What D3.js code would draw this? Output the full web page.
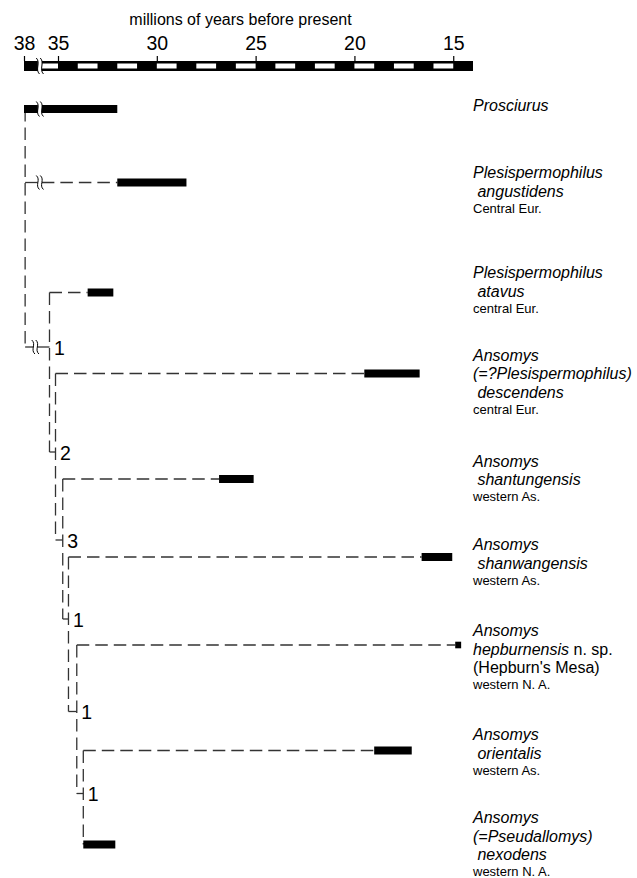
<!DOCTYPE html>
<html><head><meta charset="utf-8">
<script src="https://cdn.jsdelivr.net/npm/d3@7"></script>
<style>
body{margin:0;background:#fff}
svg{display:block}
text{font-family:"Liberation Sans",Arial,Helvetica,sans-serif;white-space:pre}
</style>
</head><body>
<svg id="chart" width="637" height="878"></svg>
<script>
// ================= DATA =================
const axisTitle = "millions of years before present";
const tickValues = [38, 35, 30, 25, 20, 15];
const axisAges = [38, 35, 14];              // 38–35 section is compressed (axis break)
const cellStarts = d3.range(35, 14, -1);    // 1-Myr cells of the time bar

const taxa = [
  "Prosciurus", "Plesispermophilus angustidens", "Plesispermophilus atavus",
  "Ansomys descendens", "Ansomys shantungensis", "Ansomys shanwangensis",
  "Ansomys hepburnensis", "Ansomys orientalis", "Ansomys nexodens"
];
// stratigraphic range (Ma): oldest, youngest
const rangeOld   = [38.0, 32.0, 33.5, 19.5, 26.85, 16.6, 14.9, 19.0, 33.72];
const rangeYoung = [32.0, 28.5, 32.2, 16.7, 25.1, 15.05, 14.6, 17.1, 32.1];
// node each taxon branches from, node ages (Ma) and connection labels
const taxonNode  = [0, 0, 1, 2, 3, 4, 5, 6, 6];
const nodeAges   = [37.9, 35.75, 35.22, 34.76, 34.47, 34.05, 33.72];
const nodeLabels = ["1", "2", "3", "1", "1", "1"];
const breakAge   = 36.6;   // age at which long branches are broken
const connBreakAge = 37.0;

// label lines: t = text, s = style (i italic, n normal, r region)
const taxonLabels = [
  [[{t:"Prosciurus", s:"i"}]],
  [[{t:"Plesispermophilus", s:"i"}], [{t:" angustidens", s:"i"}], [{t:"Central Eur.", s:"r"}]],
  [[{t:"Plesispermophilus", s:"i"}], [{t:" atavus", s:"i"}], [{t:"central Eur.", s:"r"}]],
  [[{t:"Ansomys", s:"i"}], [{t:"(=?Plesispermophilus)", s:"i"}], [{t:" descendens", s:"i"}], [{t:"central Eur.", s:"r"}]],
  [[{t:"Ansomys", s:"i"}], [{t:" shantungensis", s:"i"}], [{t:"western As.", s:"r"}]],
  [[{t:"Ansomys", s:"i"}], [{t:" shanwangensis", s:"i"}], [{t:"western As.", s:"r"}]],
  [[{t:"Ansomys", s:"i"}], [{t:"hepburnensis", s:"i"}, {t:" n. sp.", s:"n"}], [{t:"(Hepburn's Mesa)", s:"n"}], [{t:"western N. A.", s:"r"}]],
  [[{t:"Ansomys", s:"i"}], [{t:" orientalis", s:"i"}], [{t:"western As.", s:"r"}]],
  [[{t:"Ansomys", s:"i"}], [{t:"(=Pseudallomys)", s:"i"}], [{t:" nexodens", s:"i"}], [{t:"western N. A.", s:"r"}]]
];

// ================= LAYOUT =================
const rowY   = [109, 182.5, 292.5, 373.5, 479, 557, 645, 750.5, 844.5];
const connY  = [347, 452, 540, 619, 711.5, 793.5];
const labelBaseY = [111, 178, 278, 360.5, 466.5, 550, 636, 740, 823];
const labelX = 473;
const lineColor = "#333";
const dash = "12.5,6";

const svg = d3.select("#chart");
const x = d3.scaleLinear().domain(axisAges).range([24, 58, 473]);

function squigglePath(cx, cy, h) {
  return `M${cx-1.6},${cy-h/2} C${cx+3.2},${cy-h/5} ${cx-3.2},${cy+h/5} ${cx+1.6},${cy+h/2}`;
}
function squiggles(g, cx, cy, h, gap) {
  g.append("rect").attr("x", cx - gap/2).attr("y", cy - h/2 + 2).attr("width", gap).attr("height", h - 4).attr("fill", "#fff");
  [cx - gap/2, cx + gap/2].forEach(sx =>
    g.append("path").attr("d", squigglePath(sx, cy, h)).attr("fill", "none")
      .attr("stroke", "#000").attr("stroke-width", 1));
}

// ================= AXIS =================
const ax = svg.append("g");
ax.append("text").attr("x", 240.5).attr("y", 25).attr("text-anchor", "middle")
  .attr("font-size", 16).attr("fill", "#000").text(axisTitle);

const barTop = 61, barH = 10;
ax.append("rect").attr("x", x(38)).attr("y", barTop).attr("width", x(14) - x(38)).attr("height", barH).attr("fill", "#000");
// white (hollow) cells
ax.selectAll("rect.cell").data(cellStarts.filter(a => a % 2 === 0)).join("rect")
  .attr("class", "cell")
  .attr("x", d => x(d)).attr("width", d => x(d - 1) - x(d))
  .attr("y", barTop + 2.5).attr("height", barH - 5).attr("fill", "#fff");
// hollow part after the break
const bx = x(breakAge);
ax.append("rect").attr("x", bx + 2).attr("width", x(35) - bx - 2)
  .attr("y", barTop + 2.5).attr("height", barH - 5).attr("fill", "#fff");
ax.append("rect").attr("x", bx - 2).attr("width", 4).attr("y", barTop - 1).attr("height", barH + 2).attr("fill", "#fff");
[bx - 2, bx + 2].forEach(sx => ax.append("path").attr("d", squigglePath(sx, barTop + barH/2, 16))
  .attr("fill", "none").attr("stroke", "#000").attr("stroke-width", 1));

const axisG = svg.append("g").attr("transform", `translate(0,${barTop})`)
  .call(d3.axisTop(x).tickValues(tickValues).tickSize(5).tickPadding(6).tickFormat(d3.format("d")));
axisG.select(".domain").remove();
axisG.selectAll(".tick line").attr("stroke", "#000").attr("stroke-width", 1.2);
axisG.selectAll(".tick text").attr("font-size", 19.5).attr("fill", "#000")
  .attr("font-family", "'Liberation Sans',Arial,sans-serif");

// ================= TREE =================
const tree = svg.append("g");
const line = (x1, y1, x2, y2, dashed) => tree.append("line")
  .attr("x1", x1).attr("y1", y1).attr("x2", x2).attr("y2", y2)
  .attr("stroke", lineColor).attr("stroke-width", 1.3)
  .attr("stroke-dasharray", dashed ? dash : null);

// node verticals
nodeAges.forEach((age, k) => {
  const kids = taxa.map((_, i) => i).filter(i => taxonNode[i] === k);
  const ys = kids.map(i => rowY[i]);
  if (k < connY.length) ys.push(connY[k]);
  const top = d3.min(ys), bottom = d3.max(ys);
  line(x(age), top, x(age), bottom, true);
});
// connections between successive nodes
connY.forEach((cy, k) => {
  const x1 = x(nodeAges[k]), x2 = x(nodeAges[k + 1]);
  if (k === 0) {
    const sx = x(connBreakAge);
    line(x1, cy, sx - 2, cy, false);
    line(sx + 2, cy, x2, cy, false);
    squiggles(tree, sx, cy, 14, 4);
  } else {
    line(x1, cy, x2, cy, false);
  }
  tree.append("text").attr("x", x2 + 4.5).attr("y", cy + 7.5)
    .attr("font-size", 19.5).attr("fill", "#000").text(nodeLabels[k]);
});
// taxon branches (dashed) and ranges (bars)
taxa.forEach((name, i) => {
  const xn = x(nodeAges[taxonNode[i]]), xs = x(rangeOld[i]), y = rowY[i];
  if (i === 1) {
    const sx = x(breakAge);
    line(xn, y, sx - 2, y, false);
    line(sx + 2, y, xs, y, true);
    squiggles(tree, sx, y, 14, 4);
  } else if (xs - xn > 1) {
    line(xn, y, xs, y, true);
  }
});
tree.selectAll("rect.range").data(taxa).join("rect")
  .attr("class", "range")
  .attr("x", (d, i) => x(rangeOld[i]))
  .attr("width", (d, i) => x(rangeYoung[i]) - x(rangeOld[i]))
  .attr("y", (d, i) => rowY[i] - (i === 6 ? 3.3 : 4))
  .attr("height", (d, i) => i === 6 ? 6.6 : 8)
  .attr("fill", "#000");
// break on the Prosciurus bar
squiggles(tree, x(breakAge), rowY[0], 15, 4);

// ================= LABELS =================
const lab = svg.append("g");
taxonLabels.forEach((lines, i) => {
  let y = labelBaseY[i];
  lines.forEach((segs, j) => {
    if (j > 0) y += segs[0].s === "r" ? 16 : 18.5;
    const t = lab.append("text").attr("x", labelX).attr("y", y)
      .attr("xml:space", "preserve").attr("fill", "#000");
    segs.forEach(sg => {
      t.append("tspan").text(sg.t)
        .attr("font-size", sg.s === "r" ? 13 : 16)
        .attr("font-style", sg.s === "i" ? "italic" : "normal");
    });
  });
});
</script>
</body></html>
